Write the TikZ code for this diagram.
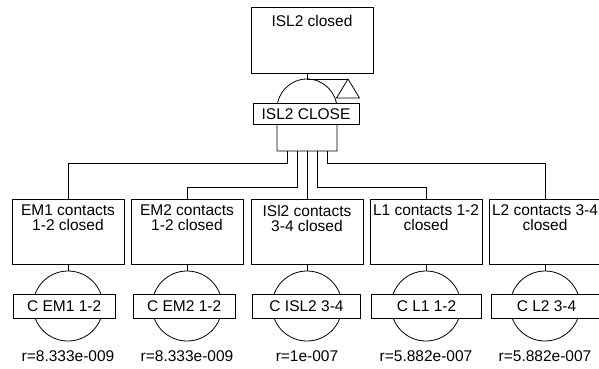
\documentclass[tikz,border=0pt]{standalone}
\usepackage{fontspec}
\setmainfont{Liberation Sans}
\begin{document}
\begin{tikzpicture}[x=1pt,y=-1pt,line width=0.8pt,
  font=\fontsize{15.5}{15}\selectfont,
  evbox/.style={draw,rectangle,minimum width=112pt,minimum height=65pt,inner sep=0pt},
  evtext/.style={anchor=north,align=center,inner sep=0pt,text depth=0pt},
  lbl/.style={draw,fill=white,rectangle,minimum height=24pt,inner sep=0pt},
  basic/.style={draw,circle,minimum size=70pt,inner sep=0pt},
  rate/.style={anchor=base,inner sep=0pt}]
\useasboundingbox (0,0) rectangle (599,369);
% top event
\node[draw,rectangle,minimum width=122pt,minimum height=66pt,inner sep=0pt] (top) at (312,40) {};
\node[evtext] (toptext) at ([yshift=-8pt]top.north) {ISL2 closed};
% AND gate
\coordinate (gtop) at (307,79);
\draw (277,151) -- (277,109) arc (180:360:30) -- (337,151) -- cycle;
\coordinate (tri) at (348,79);
\draw (tri) -- ++(-11.5,19) -- ++(23,0) -- cycle;
\draw (top.south -| gtop) -- (gtop) -- (tri);
\node[lbl,minimum width=106pt,minimum height=21pt] (gl) at (306,114) {ISL2 CLOSE};
\foreach \i/\x in {1/287.5,2/297,3/307,4/317,5/327}{\coordinate (g\i) at (\x,151);}
% events
\foreach \i/\cx/\lx/\lw/\ta/\tb/\lt/\r in {
  1/68/64.2/102/EM1 contacts/1-2 closed/C EM1 1-2/r=8.333e-009,
  2/187/184.2/102/EM2 contacts/1-2 closed/C EM2 1-2/r=8.333e-009,
  3/307/306.5/108/ISl2 contacts/3-4 closed/C ISL2 3-4/r=1e-007,
  4/426/426.5/110/L1 contacts 1-2/closed/C L1 1-2/r=5.882e-007,
  5/545/546.5/110/L2 contacts 3-4/closed/C L2 3-4/r=5.882e-007}{
  \node[evbox] (e\i) at (\cx,231.5) {};
  \node[evtext] (et\i) at ([yshift=-6pt]e\i.north) {\ta\\\tb};
  \node[basic] (c\i) at (\cx,306) {};
  \draw (e\i.south) -- (c\i.north);
  \node[lbl,minimum width=\lw pt] (l\i) at (\lx,306) {\lt};
  \node[rate] (r\i) at (\cx,361.5) {\r};
}
% gate inputs
\draw (g1) -- ++(0,12) -| (e1.north);
\draw (g2) -- ++(0,36) -| (e2.north);
\draw (g3) -- (e3.north);
\draw (g4) -- ++(0,36) -| (e4.north);
\draw (g5) -- ++(0,12) -| (e5.north);
\end{tikzpicture}
\end{document}
